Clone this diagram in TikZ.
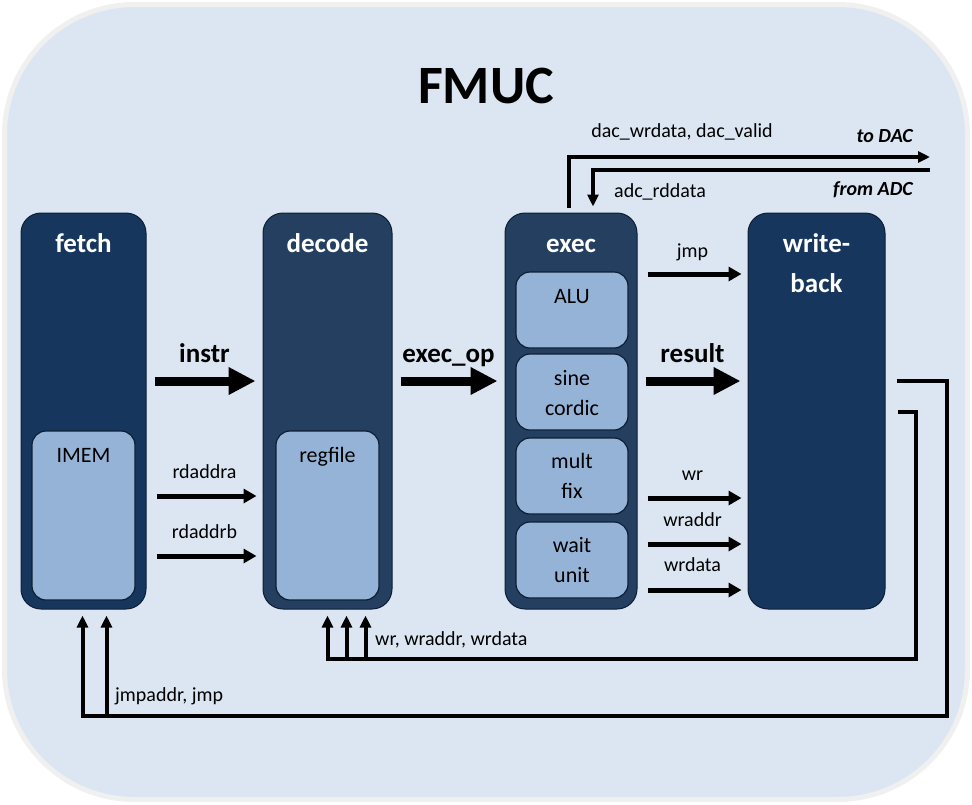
\documentclass[tikz,border=0pt]{standalone}
\usepackage{fontspec}
\setmainfont{Carlito}
\usepackage{tikz}
\usetikzlibrary{arrows.meta}
\usepackage{xcolor}
\definecolor{ColBg}{RGB}{220,230,242}
\definecolor{ColFrame}{RGB}{240,240,240}
\definecolor{ColA}{RGB}{23,54,93}
\definecolor{ColB}{RGB}{36,63,96}
\definecolor{ColC}{RGB}{149,179,215}
\definecolor{ColLine}{RGB}{13,30,52}
\tikzstyle{NodeStage}=[draw=ColLine,rounded corners=20pt,line width=1pt,inner sep=0pt]
\tikzstyle{NodeUnit}=[draw=ColLine,fill=ColC,rounded corners=14pt,line width=1.2pt,inner sep=0pt]
\tikzstyle{TextStage}=[text=white,font=\fontsize{27}{40}\selectfont\bfseries,anchor=base,align=center,inner sep=0pt]
\tikzstyle{TextUnit}=[text=black,font=\fontsize{22}{30}\selectfont,anchor=base,align=center,inner sep=0pt]
\tikzstyle{TextSig}=[font=\fontsize{20}{24}\selectfont,anchor=base,inner sep=0pt]
\tikzstyle{TextSigIt}=[font=\fontsize{20}{24}\selectfont\bfseries\itshape,anchor=base east,inner sep=0pt]
\tikzstyle{TextBus}=[font=\fontsize{27}{32}\selectfont\bfseries,anchor=base,inner sep=0pt]
\tikzstyle{EdgeBus}=[line width=9pt,-{Triangle[length=27pt,width=26pt]},shorten <=8pt,shorten >=7pt]
\tikzstyle{EdgeSig}=[line width=5pt,-{Triangle[length=13pt,width=14pt]},shorten <=10pt,shorten >=6pt]
\tikzstyle{EdgeWire}=[line width=4pt,-{Triangle[length=12pt,width=11pt]}]

\begin{document}
\begin{tikzpicture}[x=1pt,y=-1pt]
        \useasboundingbox (0,0) rectangle (972,804);
        \draw[fill=ColBg,draw=ColFrame,line width=5pt,rounded corners=130pt] (4.5,4.5) rectangle (967.5,799.5);
        \node[font=\fontsize{54}{60}\selectfont\bfseries,anchor=base] (title) at (486,103) {FMUC};
        % pipeline stages
        \node[NodeStage,fill=ColA,minimum width=125pt,minimum height=396pt](fetch)at(83.5,411){};
        \node[NodeStage,fill=ColB,minimum width=129pt,minimum height=396pt](decode)at(327.5,411){};
        \node[NodeStage,fill=ColB,minimum width=132pt,minimum height=396pt](exec)at(571,411){};
        \node[NodeStage,fill=ColA,minimum width=137pt,minimum height=396pt](wb)at(816.5,411){};
        \node[TextStage](tFetch)at([yshift=-40pt]fetch.north){fetch};
        \node[TextStage](tDecode)at([yshift=-40pt]decode.north){decode};
        \node[TextStage](tExec)at([yshift=-40pt]exec.north){exec};
        \node[TextStage](tWb)at([yshift=-80pt]wb.north){write-\\back};
        % units
        \node[NodeUnit,minimum width=103pt,minimum height=169pt](imem)at(83.5,515.5){};
        \node[NodeUnit,minimum width=103pt,minimum height=169pt](regfile)at(327.5,515.5){};
        \node[NodeUnit,minimum width=112pt,minimum height=76pt](alu)at(572,310){};
        \node[NodeUnit,minimum width=112pt,minimum height=76pt](sine)at(572,392){};
        \node[NodeUnit,minimum width=112pt,minimum height=76pt](mult)at(572,476){};
        \node[NodeUnit,minimum width=112pt,minimum height=76pt](wait)at(572,560){};
        \node[TextUnit](tImem)at([yshift=-32pt]imem.north){IMEM};
        \node[TextUnit](tRegfile)at([yshift=-32pt]regfile.north){regfile};
        \node[TextUnit](tAlu)at([yshift=-32pt]alu.north){ALU};
        \node[TextUnit](tSine)at([yshift=-62pt]sine.north){sine\\cordic};
        \node[TextUnit](tMult)at([yshift=-61pt]mult.north){mult\\fix};
        \node[TextUnit](tWait)at([yshift=-61pt]wait.north){wait\\unit};
        % buses between stages
        \draw[EdgeBus](fetch.east|-0,381)--(decode.west|-0,381)node[TextBus,midway,yshift=19pt](lInstr){instr};
        \draw[EdgeBus](decode.east|-0,381)--(exec.west|-0,381)node[TextBus,midway,yshift=19pt](lExecOp){exec\_op};
        \draw[EdgeBus](exec.east|-0,381)--(wb.west|-0,381)node[TextBus,midway,yshift=19pt](lResult){result};
        \draw[EdgeSig](fetch.east|-0,496)--(decode.west|-0,496)node[TextSig,midway,yshift=18pt](lRdA){rdaddra};
        \draw[EdgeSig](fetch.east|-0,556)--(decode.west|-0,556)node[TextSig,midway,yshift=18pt](lRdB){rdaddrb};
        \draw[EdgeSig](exec.east|-0,274)--(wb.west|-0,274)node[TextSig,midway,yshift=17pt](lJmp){jmp};
        \draw[EdgeSig](exec.east|-0,498)--(wb.west|-0,498)node[TextSig,midway,yshift=18pt](lWr){wr};
        \draw[EdgeSig](exec.east|-0,544)--(wb.west|-0,544)node[TextSig,midway,yshift=18pt](lWraddr){wraddr};
        \draw[EdgeSig](exec.east|-0,590)--(wb.west|-0,590)node[TextSig,midway,yshift=19pt](lWrdata){wrdata};
        % DAC / ADC
        \coordinate(dac)at(930,157);
        \coordinate(adc)at(930,170);
        \draw[EdgeWire]([xshift=-2pt,yshift=5pt]exec.north)|-(dac);
        \draw[EdgeWire](adc)-|([xshift=22pt,yshift=6pt]exec.north);
        \node[TextSig](lDac)at(682,137){dac\_wrdata, dac\_valid};
        \node[TextSigIt](lToDac)at(913,142){to DAC};
        \node[TextSig,anchor=base west](lAdc)at(614,197){adc\_rddata};
        \node[TextSigIt](lFromAdc)at(913,195){from ADC};
        % feedback from write-back
        \coordinate(jmpc)at(947,716);
        \coordinate(wrc)at(916,659);
        \draw[EdgeWire]([xshift=11pt]wb.east|-0,381)-|(jmpc)-|([xshift=-1pt,yshift=-6pt]fetch.south);
        \draw[EdgeWire]([xshift=23pt]fetch.south|-jmpc)--([xshift=23pt,yshift=-6pt]fetch.south);
        \draw[EdgeWire]([xshift=12pt]wb.east|-0,412)-|(wrc)-|([yshift=-6pt]decode.south);
        \draw[EdgeWire]([xshift=19pt]decode.south|-wrc)--([xshift=19pt,yshift=-6pt]decode.south);
        \draw[EdgeWire]([xshift=38pt]decode.south|-wrc)--([xshift=38pt,yshift=-6pt]decode.south);
        \node[TextSig,anchor=base west](lJmpFb)at(115,701){jmpaddr, jmp};
        \node[TextSig,anchor=base west](lWrFb)at(375,645){wr, wraddr, wrdata};
    \end{tikzpicture}
\end{document}
